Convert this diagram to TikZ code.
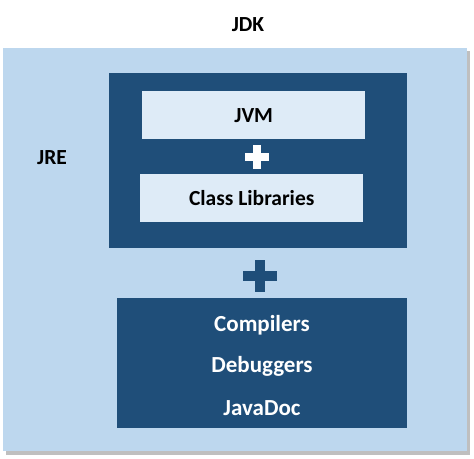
\documentclass[tikz,border=0pt]{standalone}
\usepackage{fontspec}
\setmainfont{Carlito}
\definecolor{outerblue}{HTML}{BDD7EE}
\definecolor{darkblue}{HTML}{1F4E79}
\definecolor{paleblue}{HTML}{DEEBF7}
\begin{document}
\begin{tikzpicture}[x=1pt,y=-1pt,
  lbl/.style={font=\bfseries\fontsize{21.5}{24}\selectfont,inner sep=0pt},
  wlbl/.style={font=\bfseries\fontsize{23}{26}\selectfont,inner sep=0pt,text=white},
  box/.style={draw=none,inner sep=0pt}]
\useasboundingbox (0,0) rectangle (474,458);
\fill[white] (0,0) rectangle (474,458);
% outer shadow
\fill[black!25] (6,51) rectangle (470,455);
\node[box,fill=outerblue,minimum width=464pt,minimum height=403pt,anchor=north west] (jdkbox) at (3,48) {};
\node[lbl] (jdk) at (248,25) {JDK};
\node[box,fill=darkblue,minimum width=298pt,minimum height=175pt,anchor=north west] (jrebox) at (109,73) {};
\node[lbl] (jre) at (52,158) {JRE};
\node[box,fill=paleblue,minimum width=223pt,minimum height=48pt,anchor=north west] (jvm) at (142,91) {};
\node[lbl] at (jvm.center) {JVM};
\node[box,fill=paleblue,minimum width=223pt,minimum height=48pt,anchor=north west] (cls) at (140,174) {};
\node[lbl] at (cls.center) {Class Libraries};
% white plus
\coordinate (p1) at (257,157);
\fill[white] ([xshift=-12pt,yshift=4pt]p1) rectangle ([xshift=12pt,yshift=-4pt]p1);
\fill[white] ([xshift=-4pt,yshift=12pt]p1) rectangle ([xshift=4pt,yshift=-12pt]p1);
% dark plus
\coordinate (p2) at (260,276);
\fill[darkblue] ([xshift=-17pt,yshift=5pt]p2) rectangle ([xshift=17pt,yshift=-5pt]p2);
\fill[darkblue] ([xshift=-5pt,yshift=16pt]p2) rectangle ([xshift=5pt,yshift=-16pt]p2);
\node[box,fill=darkblue,minimum width=290pt,minimum height=130pt,anchor=north west] (tools) at (117,298) {};
\node[wlbl] (comp) at (262,325) {Compilers};
\node[wlbl] (debug) at (262,366) {Debuggers};
\node[wlbl] (jdoc) at (262,408) {JavaDoc};
\end{tikzpicture}
\end{document}
